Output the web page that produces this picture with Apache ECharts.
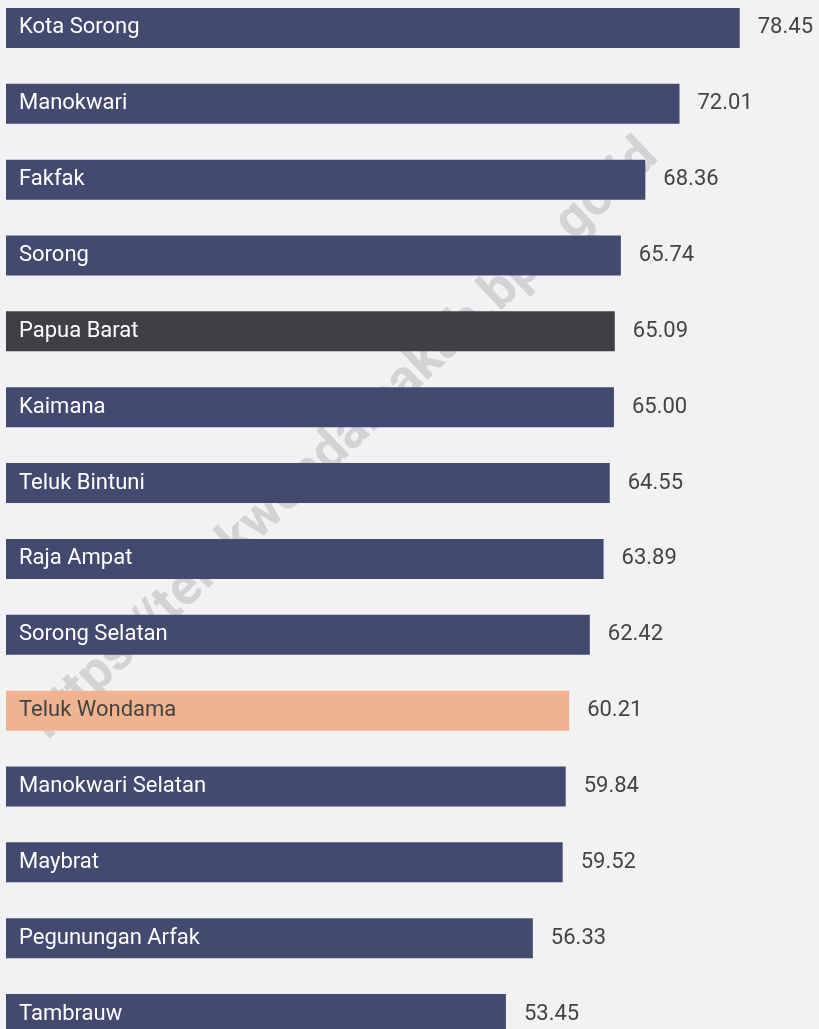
<!DOCTYPE html>
<html>
<head>
<meta charset="utf-8">
<script src="https://cdn.jsdelivr.net/npm/echarts@6/dist/echarts.min.js"></script>
<style>
  html, body { margin: 0; padding: 0; background: #f2f2f4; overflow: hidden; }
  #wrap { position: relative; width: 819px; height: 1029px; overflow: hidden; }
  /* chart box is taller than the window so the last bar is cut, as in the original */
  #chart { position: absolute; left: 0; top: -10px; width: 819px; height: 1062px; }
</style>
</head>
<body>
<div id="wrap"><div id="chart"></div></div>
<script>
const regions = [
  'Kota Sorong', 'Manokwari', 'Fakfak', 'Sorong', 'Papua Barat', 'Kaimana',
  'Teluk Bintuni', 'Raja Ampat', 'Sorong Selatan', 'Teluk Wondama',
  'Manokwari Selatan', 'Maybrat', 'Pegunungan Arfak', 'Tambrauw'
]
const values = [78.45, 72.01, 68.36, 65.74, 65.09, 65.0, 64.55, 63.89, 62.42, 60.21, 59.84, 59.52, 56.33, 53.45]

const navy = '#434a6f'
const highlight = {
  'Papua Barat': { bar: '#413f46', text: '#ffffff' },
  'Teluk Wondama': { bar: '#f0b38f', text: '#444444' },
}

const font = 'Roboto, sans-serif'
const chart = echarts.init(document.getElementById('chart'))

chart.setOption({
  backgroundColor: '#f2f2f4',
  animation: false,
  grid: { left: 6, right: 18, top: 0, bottom: 0 },
  xAxis: {
    type: 'value',
    min: 0,
    max: 85,
    show: false,
  },
  yAxis: {
    type: 'category',
    data: regions,
    inverse: true,
    show: false,
  },
  graphic: [
    {
      // watermark, sits under the bars
      type: 'text',
      x: 345,
      y: 450,
      rotation: 0.76,
      z: 0,
      style: {
        text: 'https://telukwondamakab.bps.go.id',
        fill: 'rgba(110,110,115,0.23)',
        font: 'bold 53px Roboto, sans-serif',
        align: 'center',
        verticalAlign: 'middle',
      },
    },
  ],
  series: [
    {
      type: 'bar',
      barWidth: 40,
      z: 5,
      data: values.map((v, i) => {
        const h = highlight[regions[i]]
        return {
          value: v,
          itemStyle: { color: h ? h.bar : navy },
          label: { color: h ? h.text : '#ffffff' },
        }
      }),
      label: {
        show: true,
        position: 'insideLeft',
        distance: 13,
        fontFamily: font,
        fontSize: 22,
        color: '#ffffff',
        formatter: (p) => p.name,
      },
    },
    {
      type: 'bar',
      barWidth: 40,
      barGap: '-100%',
      z: 4,
      itemStyle: { color: 'transparent' },
      silent: true,
      data: values,
      label: {
        show: true,
        position: 'right',
        distance: 18,
        fontFamily: font,
        fontSize: 22,
        color: '#444444',
        formatter: (p) => p.value.toFixed(2),
      },
    },
  ],
})
</script>
</body>
</html>
